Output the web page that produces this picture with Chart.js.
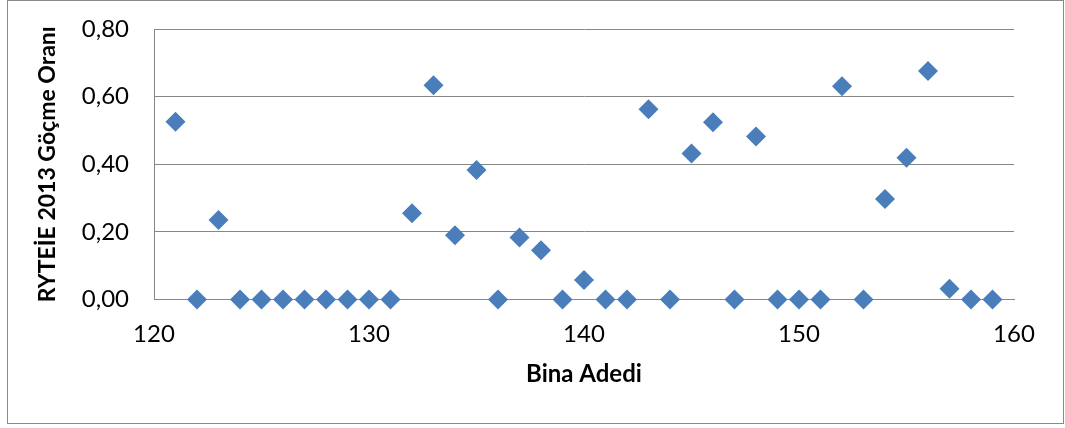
<!DOCTYPE html>
<html lang="tr">
<head>
<meta charset="utf-8">
<title>RYTEİE 2013 Göçme Oranı - Bina Adedi</title>
<script src="https://cdn.jsdelivr.net/npm/chart.js@4/dist/chart.umd.min.js"></script>
<style>
  html, body { margin: 0; padding: 0; background: #ffffff; }
  #wrap { position: relative; width: 1065px; height: 428px; }
  canvas { display: block; }
</style>
</head>
<body>
<div id="wrap"><canvas id="chart" width="1065" height="428"></canvas></div>
<script>
// Building count (x) and collapse ratio (y)
const binaAdedi = [121, 122, 123, 124, 125, 126, 127, 128, 129, 130,
                   131, 132, 133, 134, 135, 136, 137, 138, 139, 140,
                   141, 142, 143, 144, 145, 146, 147, 148, 149, 150,
                   151, 152, 153, 154, 155, 156, 157, 158, 159];
const gocmeOrani = [0.526, 0, 0.235, 0, 0, 0, 0, 0, 0, 0,
                    0, 0.255, 0.634, 0.190, 0.383, 0, 0.183, 0.146, 0, 0.058,
                    0, 0, 0.563, 0, 0.432, 0.524, 0, 0.482, 0, 0,
                    0, 0.631, 0, 0.297, 0.419, 0.676, 0.032, 0, 0];

const xTickValues = [120, 130, 140, 150, 160];
const xTickLabels = ['120', '130', '140', '150', '160'];
const yTickValues = [0, 0.2, 0.4, 0.6, 0.8];
const yTickLabels = ['0,00', '0,20', '0,40', '0,60', '0,80'];

const xTitle = 'Bina Adedi';
const yTitle = 'RYTEİE 2013 Göçme Oranı';

const points = binaAdedi.map((x, i) => ({ x: x, y: gocmeOrani[i] }));

function labelFor(values, labels, v) {
  const i = values.findIndex(t => Math.abs(t - v) < 1e-9);
  return i >= 0 ? labels[i] : '';
}

const axisGray = '#878787';
const fontFamily = 'Lato, "Open Sans", "Liberation Sans", sans-serif';

// Outer frame around the whole chart
const framePlugin = {
  id: 'frame',
  afterDraw(chart) {
    const ctx = chart.ctx;
    ctx.save();
    ctx.strokeStyle = '#898989';
    ctx.lineWidth = 1;
    ctx.strokeRect(7.5, 0.5, 1056, 423);
    ctx.restore();
  }
};

new Chart(document.getElementById('chart'), {
  type: 'scatter',
  data: {
    datasets: [{
      data: points,
      pointStyle: 'rectRot',
      pointRadius: 10,
      pointHoverRadius: 10,
      pointBorderWidth: 0,
      backgroundColor: '#4A7EBB',
      borderColor: '#4A7EBB',
      clip: false
    }]
  },
  options: {
    responsive: false,
    animation: false,
    events: [],
    layout: { padding: { left: 0, top: 29, right: 51, bottom: 0 } },
    plugins: {
      legend: { display: false },
      tooltip: { enabled: false }
    },
    scales: {
      x: {
        type: 'linear',
        min: 120,
        max: 160,
        afterBuildTicks(scale) { scale.ticks = xTickValues.map(v => ({ value: v })); },
        afterFit(scale) {
          scale.height = 128.5;
          scale.paddingLeft = 0;
          scale.paddingRight = 0;
        },
        grid: { display: false, drawTicks: false },
        border: { display: true, color: axisGray, width: 1 },
        ticks: {
          padding: 20,
          color: '#000000',
          font: { family: fontFamily, size: 24 },
          maxRotation: 0,
          callback: v => labelFor(xTickValues, xTickLabels, v)
        },
        title: {
          display: true,
          text: xTitle,
          color: '#000000',
          font: { family: fontFamily, size: 24, weight: 'bold' },
          padding: { top: 0, bottom: 39 }
        }
      },
      y: {
        type: 'linear',
        min: 0,
        max: 0.8,
        afterBuildTicks(scale) { scale.ticks = yTickValues.map(v => ({ value: v })); },
        afterFit(scale) {
          scale.width = 154;
          scale.paddingTop = 0;
          scale.paddingBottom = 0;
        },
        grid: { display: true, color: axisGray, lineWidth: 1, drawTicks: false },
        border: { display: true, color: axisGray, width: 1 },
        ticks: {
          padding: 25,
          color: '#000000',
          font: { family: fontFamily, size: 24 },
          callback: v => labelFor(yTickValues, yTickLabels, v)
        },
        title: {
          display: true,
          text: yTitle,
          color: '#000000',
          font: { family: fontFamily, size: 23, weight: 'bold' },
          padding: { top: 34, bottom: 0 }
        }
      }
    }
  },
  plugins: [framePlugin]
});
</script>
</body>
</html>
